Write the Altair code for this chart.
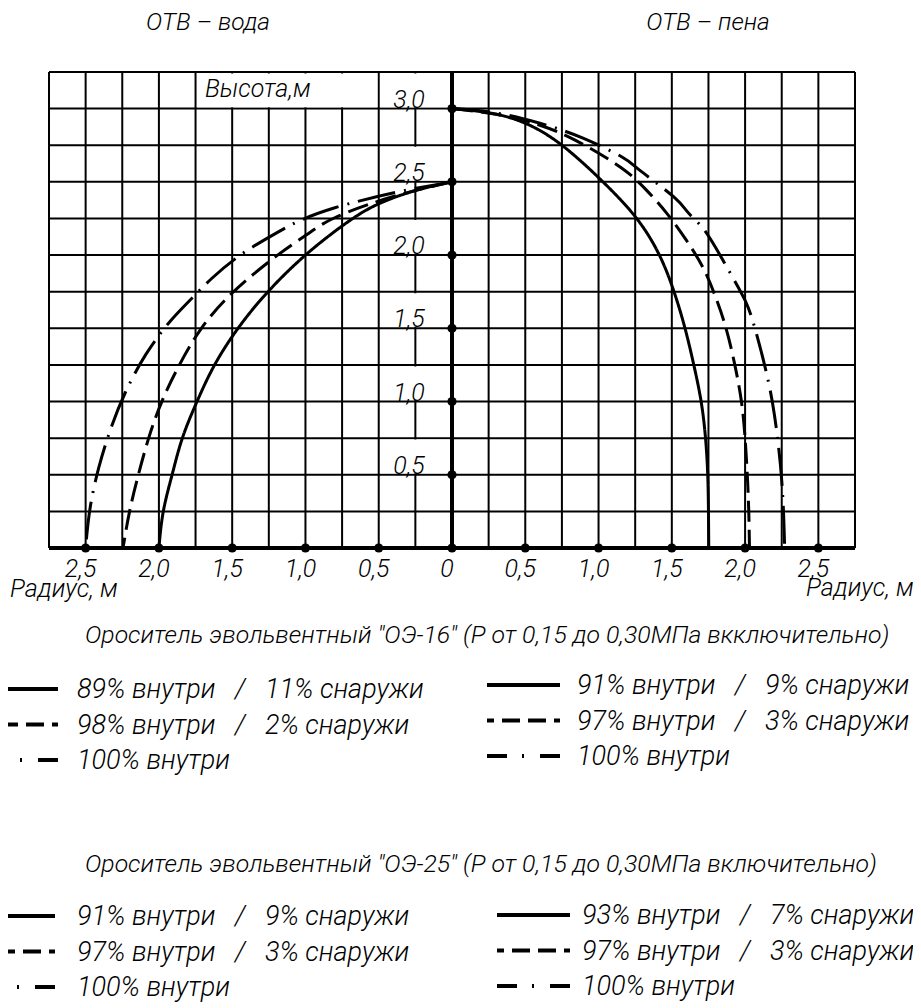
import altair as alt
import pandas as pd

# ---------------- data ----------------
# ОТВ – вода (left side, radius drawn to the left)
water_solid_x = [0, -0.25, -0.5, -0.72, -1.0, -1.26, -1.46, -1.62, -1.74, -1.84, -1.91, -1.97, -2.0]
water_solid_y = [2.5, 2.44, 2.35, 2.22, 2.0, 1.745, 1.5, 1.25, 1.0, 0.75, 0.5, 0.25, 0.0]
water_dash_x = [0, -0.4, -0.79, -0.99, -1.19, -1.49, -1.71, -1.86, -1.98, -2.07, -2.14, -2.2, -2.245]
water_dash_y = [2.5, 2.4, 2.26, 2.14, 2.0, 1.75, 1.5, 1.25, 1.0, 0.75, 0.5, 0.25, 0.0]
water_dd_x = [0, -0.375, -0.81, -1.06, -1.2, -1.43, -1.64, -1.79, -1.93, -2.09, -2.23, -2.33, -2.41, -2.47, -2.5]
water_dd_y = [2.5, 2.43, 2.32, 2.225, 2.15, 2.01, 1.84, 1.69, 1.54, 1.32, 1.06, 0.81, 0.55, 0.27, 0.0]

# ОТВ – пена (right side)
foam_solid_x = [0, 0.26, 0.5, 0.75, 1.03, 1.26, 1.415, 1.515, 1.59, 1.65, 1.70, 1.73, 1.745, 1.75, 1.752]
foam_solid_y = [3.0, 2.97, 2.9, 2.75, 2.5, 2.25, 2.0, 1.75, 1.5, 1.25, 1.0, 0.75, 0.5, 0.25, 0.0]
foam_dash_x = [0, 0.31, 0.59, 0.85, 1.15, 1.33, 1.47, 1.6, 1.715, 1.80, 1.87, 1.93, 1.975, 2.0, 2.015, 2.025, 2.03]
foam_dash_y = [3.0, 2.96, 2.89, 2.78, 2.6, 2.44, 2.28, 2.1, 1.91, 1.71, 1.5, 1.25, 1.0, 0.75, 0.5, 0.25, 0.0]
foam_dd_x = [0, 0.3, 0.6, 0.89, 1.16, 1.28, 1.51, 1.62, 1.73, 1.88, 2.0, 2.07, 2.14, 2.2, 2.25, 2.27]
foam_dd_y = [3.0, 2.97, 2.9, 2.8, 2.67, 2.58, 2.4, 2.28, 2.16, 1.91, 1.69, 1.49, 1.22, 0.91, 0.46, 0.0]

x_tick_values = [-2.5, -2.0, -1.5, -1.0, -0.5, 0.0, 0.5, 1.0, 1.5, 2.0, 2.5]
x_tick_labels = ["2,5", "2,0", "1,5", "1,0", "0,5", "0", "0,5", "1,0", "1,5", "2,0", "2,5"]
y_tick_values = [0.5, 1.0, 1.5, 2.0, 2.5, 3.0]
y_tick_labels = ["0,5", "1,0", "1,5", "2,0", "2,5", "3,0"]

side_titles = ["ОТВ – вода", "ОТВ – пена"]
block_titles = [
    'Ороситель эвольвентный "ОЭ-16" (Р от 0,15 до 0,30МПа вкключительно)',
    'Ороситель эвольвентный "ОЭ-25" (Р от 0,15 до 0,30МПа включительно)',
]
SEP = "\u00a0\u00a0\u00a0/\u00a0\u00a0\u00a0"
legend_16_left = ["89% внутри" + SEP + "11% снаружи", "98% внутри" + SEP + "2% снаружи", "100% внутри"]
legend_16_right = ["91% внутри" + SEP + "9% снаружи", "97% внутри" + SEP + "3% снаружи", "100% внутри"]
legend_25_left = ["91% внутри" + SEP + "9% снаружи", "97% внутри" + SEP + "3% снаружи", "100% внутри"]
legend_25_right = ["93% внутри" + SEP + "7% снаружи", "97% внутри" + SEP + "3% снаружи", "100% внутри"]
styles = ["solid", "dash", "dashdot"]

# ---------------- layout ----------------
W, H = 806, 476
X0, X1, Y0, Y1 = -2.75, 2.75, 0.0, 3.25
grid_x = [X0 + 0.25 * i for i in range(23)]
grid_y = [Y0 + 0.25 * i for i in range(14)]
FONT = "Roboto"
FW = 300
PX, PY = 49, 72  # page position of the plot origin

xs = alt.Scale(domain=[X0, X1], nice=False, zero=False)
ys = alt.Scale(domain=[Y0, Y1], nice=False, zero=False)
dash_scale = alt.Scale(domain=styles, range=[[1, 0], [21, 8], [38, 9, 2, 9]])

rows = []
for side, (sx, sy, dx, dy, ddx, ddy) in {
    "water": (water_solid_x, water_solid_y, water_dash_x, water_dash_y, water_dd_x, water_dd_y),
    "foam": (foam_solid_x, foam_solid_y, foam_dash_x, foam_dash_y, foam_dd_x, foam_dd_y),
}.items():
    for style, xx, yy in (("solid", sx, sy), ("dash", dx, dy), ("dashdot", ddx, ddy)):
        for i, (a, b) in enumerate(zip(xx, yy)):
            rows.append({"x": a, "y": b, "series": side + "-" + style, "style": style, "i": i})
curves = pd.DataFrame(rows)

noaxis = alt.Axis(labels=False, ticks=False, domain=False, grid=False, title=None)
X = lambda f: alt.X(f, scale=xs, axis=noaxis)
Y = lambda f: alt.Y(f, scale=ys, axis=noaxis)

vgrid = alt.Chart(pd.DataFrame({"x": grid_x, "y": Y0, "y2": Y1})).mark_rule(
    color="black", strokeWidth=2).encode(x=X("x:Q"), y=Y("y:Q"), y2="y2:Q")
hgrid = alt.Chart(pd.DataFrame({"y": grid_y, "x": X0, "x2": X1})).mark_rule(
    color="black", strokeWidth=2).encode(y=Y("y:Q"), x=X("x:Q"), x2="x2:Q")

# white boxes: label cells along the height axis and the "Высота,м" cell
boxes = pd.DataFrame(
    [{"x": -0.49, "x2": -0.01, "y": v + 0.01, "y2": v + 0.24} for v in y_tick_values]
    + [{"x": -1.74, "x2": -0.51, "y": Y1 - 0.24, "y2": Y1 - 0.01}]
)
white = alt.Chart(boxes).mark_rect(color="white").encode(
    x=X("x:Q"), x2="x2:Q", y=Y("y:Q"), y2="y2:Q")

axis_v = alt.Chart(pd.DataFrame({"x": [0.0], "y": [Y0], "y2": [Y1]})).mark_rule(
    color="black", strokeWidth=4).encode(x=X("x:Q"), y=Y("y:Q"), y2="y2:Q")
axis_h = alt.Chart(pd.DataFrame({"x": [X0], "x2": [X1], "y": [0.0]})).mark_rule(
    color="black", strokeWidth=4).encode(x=X("x:Q"), x2="x2:Q", y=Y("y:Q"))

lines = alt.Chart(curves).mark_line(color="black", strokeWidth=3, interpolate="natural").encode(
    x=X("x:Q"), y=Y("y:Q"), detail="series:N", order="i:Q",
    strokeDash=alt.StrokeDash("style:N", scale=dash_scale, legend=None),
)

dots_df = pd.DataFrame(
    [{"x": v, "y": 0.0} for v in x_tick_values] + [{"x": 0.0, "y": v} for v in y_tick_values]
)
dots = alt.Chart(dots_df).mark_circle(color="black", size=85, opacity=1).encode(x=X("x:Q"), y=Y("y:Q"))

txt = dict(font=FONT, fontStyle="italic", fontWeight=FW, color="black")

xlab = alt.Chart(pd.DataFrame({"x": x_tick_values, "t": x_tick_labels, "y": 0.0})).mark_text(
    fontSize=25, align="center", baseline="alphabetic", dx=-5, dy=29, **txt).encode(
    x=X("x:Q"), y=Y("y:Q"), text="t:N")
ylab = alt.Chart(pd.DataFrame({"y": y_tick_values, "t": y_tick_labels, "x": 0.0})).mark_text(
    fontSize=25, align="center", baseline="alphabetic", dx=-43, dy=-1, **txt).encode(
    x=X("x:Q"), y=Y("y:Q"), text="t:N")

free = pd.DataFrame([
    {"t": side_titles[0], "px": 208 - PX, "py": 30 - PY, "a": "center", "s": 24.5},
    {"t": side_titles[1], "px": 708 - PX, "py": 30 - PY, "a": "center", "s": 24.5},
    {"t": "Высота,м", "px": 205 - PX, "py": 97 - PY, "a": "left", "s": 25},
    {"t": "Радиус, м", "px": 10 - PX, "py": 597 - PY, "a": "left", "s": 25},
    {"t": "Радиус, м", "px": 806 - PX, "py": 596 - PY, "a": "left", "s": 25},
    {"t": block_titles[0], "px": 85 - PX, "py": 643 - PY, "a": "left", "s": 24.8},
    {"t": block_titles[1], "px": 85 - PX, "py": 872 - PY, "a": "left", "s": 24.8},
])
free_left = alt.Chart(free[free.a == "left"]).mark_text(align="left", baseline="alphabetic", **txt).encode(
    x=alt.X("px:Q", scale=None), y=alt.Y("py:Q", scale=None), text="t:N",
    size=alt.Size("s:Q", scale=None, legend=None))
free_center = alt.Chart(free[free.a == "center"]).mark_text(align="center", baseline="alphabetic", **txt).encode(
    x=alt.X("px:Q", scale=None), y=alt.Y("py:Q", scale=None), text="t:N",
    size=alt.Size("s:Q", scale=None, legend=None))

# legend blocks: labels, sample left/right (page x), text x, first baseline (page y)
legend_layout = [
    (legend_16_left, 8, 58, 77, 698),
    (legend_16_right, 487, 560, 577, 694),
    (legend_25_left, 8, 55, 77, 925),
    (legend_25_right, 497, 570, 582, 924),
]
leg_rows = []
for labels, sx0, sx1, tx, by in legend_layout:
    for r, (lab, st) in enumerate(zip(labels, styles)):
        base = by + r * 35.5
        leg_rows.append({"t": lab, "style": st, "sx0": sx0 - PX, "sx1": sx1 - PX,
                         "tx": tx - PX, "ty": base - PY, "sy": base - 9 - PY})
leg = pd.DataFrame(leg_rows)


def sample(style, **kw):
    # drawn from the right end towards the left, like the original samples
    return alt.Chart(leg[leg["style"] == style]).mark_rule(color="black", strokeWidth=4, **kw).encode(
        x=alt.X("sx1:Q", scale=None), x2="sx0:Q", y=alt.Y("sy:Q", scale=None))


leg_solid = sample("solid")
leg_dash = sample("dash", strokeDash=[18, 8], strokeDashOffset=12)
leg_dd = sample("dashdot", strokeDash=[20, 16, 2, 15])
leg_text = alt.Chart(leg).mark_text(align="left", baseline="alphabetic", fontSize=27, **txt).encode(
    x=alt.X("tx:Q", scale=None), y=alt.Y("ty:Q", scale=None), text="t:N")

chart = alt.layer(
    vgrid, hgrid, white, axis_v, axis_h, lines, dots, xlab, ylab, free_left, free_center,
    leg_solid, leg_dash, leg_dd, leg_text
).resolve_scale(strokeDash="independent", size="independent").properties(
    width=W, height=H,
    autosize=alt.AutoSizeParams(type="none"),
    padding={"left": 41, "top": 64, "right": 58, "bottom": 460},
).configure_view(stroke=None).configure(background="white")

chart.save("out.html", embed_options={"renderer": "svg", "actions": False})
